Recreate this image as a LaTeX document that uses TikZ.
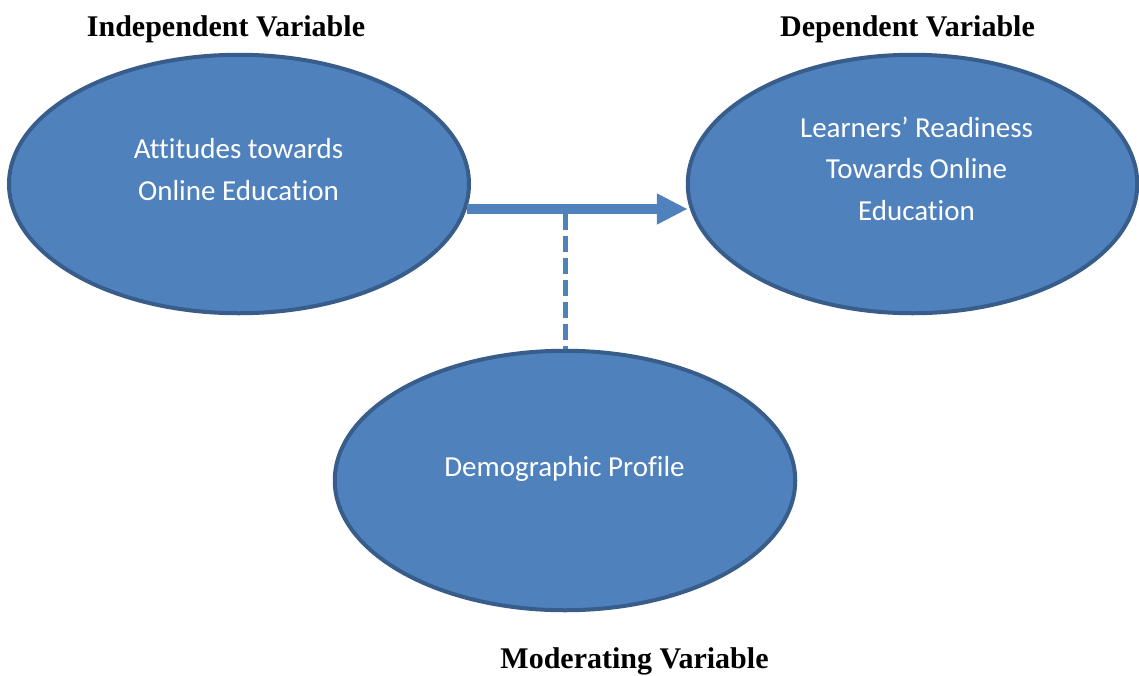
\documentclass[tikz,border=0pt]{standalone}
\usepackage{fontspec}
\setmainfont{Liberation Serif}
\newfontfamily\carl[Ligatures={NoCommon}]{Carlito}
\usetikzlibrary{arrows.meta,shapes.geometric}
\definecolor{ovalfill}{HTML}{4F81BD}
\definecolor{ovaldraw}{HTML}{385D8A}
\tikzset{
  oval/.style={ellipse, draw=ovaldraw, fill=ovalfill, line width=4pt, inner sep=0pt},
  inner/.style={anchor=base, text=white, inner sep=0pt, font=\carl\fontsize{29}{35}\selectfont},
  heading/.style={anchor=base, text=black, inner sep=0pt, font=\bfseries\fontsize{30}{36}\selectfont},
  mainarrow/.style={draw=ovalfill, line width=10pt, -{Triangle[length=31pt, width=29pt]}},
  moddash/.style={draw=ovalfill, line width=5pt, dash pattern=on 16pt off 6pt}
}
\begin{document}
\begin{tikzpicture}[x=1pt, y=-1pt]
\useasboundingbox (0,0) rectangle (1139,675);
\fill[white] (0,0) rectangle (1139,675);
% ovals
\node[oval, minimum width=460pt, minimum height=258.5pt] (L) at (239,184) {};
\node[oval, minimum width=449.5pt, minimum height=258.5pt] (R) at (912.5,184) {};
\node[oval, minimum width=460.5pt, minimum height=259.5pt] (B) at (565,480.5) {};
% texts inside ovals
\node[inner] (l1) at (238.5,158) {Attitudes towards};
\node[inner] (l2) at (238.5,200) {Online Education};
\node[inner] (r1) at (916.5,137) {Learners’ Readiness};
\node[inner] (r2) at (916.5,178) {Towards Online};
\node[inner] (r3) at (916.5,220) {Education};
\node[inner] (b1) at (564.5,476) {Demographic Profile};
% headings
\node[heading] (h1) at (226,36) {Independent Variable};
\node[heading] (h2) at (907.5,36) {Dependent Variable};
\node[heading] (h3) at (634.5,668) {Moderating Variable};
% connectors
\draw[mainarrow] ([shift={(-4pt,-25pt)}]L.east) -- ([shift={(2pt,-25pt)}]R.west);
\coordinate (m) at (565,214);
\draw[moddash] (m) -- (B.north);
\end{tikzpicture}
\end{document}
